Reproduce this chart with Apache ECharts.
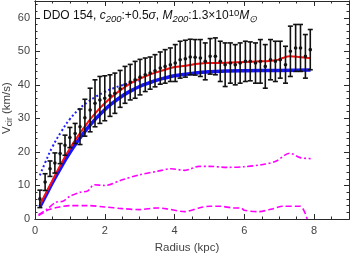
<!DOCTYPE html>
<html><head><meta charset="utf-8">
<script src="https://cdn.jsdelivr.net/npm/echarts@6/dist/echarts.min.js"></script>
<style>html,body{margin:0;padding:0;background:#fff}#c{width:350px;height:257px}</style>
</head><body><div id="c"></div>
<script>
// ---- data ----
const obsR = [0.14,0.29,0.43,0.57,0.72,0.86,1.00,1.15,1.29,1.43,1.58,1.72,1.86,2.00,2.15,2.29,2.44,2.58,2.73,2.87,3.01,3.16,3.30,3.44,3.59,3.73,3.88,4.02,4.16,4.31,4.45,4.59,4.74,4.88,5.02,5.17,5.31,5.45,5.60,5.74,5.88,6.03,6.17,6.32,6.46,6.60,6.75,6.89,7.03,7.18,7.32,7.47,7.61,7.75,7.89];
const obsV = [6.0,11.0,15.0,16.7,19.5,22.0,24.3,25.5,27.5,30.2,32.5,34.5,35.5,36.0,36.8,37.5,38.8,40.0,40.8,41.5,42.3,43.0,43.5,44.2,45.0,45.5,46.0,46.5,47.5,47.8,48.3,48.2,48.0,47.0,48.5,48.5,47.0,46.0,46.5,46.0,46.5,47.0,47.0,46.5,47.0,45.5,47.5,47.0,47.5,46.0,50.0,51.0,51.0,48.5,50.5];
const obsErr = [2.6,2.5,2.3,3.0,3.0,3.0,3.0,3.0,5.3,5.5,6.5,7.0,7.0,6.7,6.2,6.0,5.5,5.5,5.3,5.5,5.3,5.0,4.8,4.8,4.8,5.0,5.0,5.5,5.5,5.5,5.3,5.3,5.5,5.5,5.3,5.5,6.0,6.5,6.0,6.0,6.0,6.0,5.8,6.0,6.5,6.5,6.0,6.0,5.5,5.5,7.5,7.0,7.0,6.5,6.0];

const totR = [0.14,0.3,0.5,0.75,1.0,1.25,1.5,1.75,2.0,2.25,2.5,2.75,3.0,3.25,3.5,3.75,4.0,4.25,4.5,4.75,5.0,5.5,6.0,6.5,6.9,7.1,7.3,7.5,7.9];
const totV = [4.2,7.5,11.5,16.5,21.0,25.0,28.6,31.8,34.5,36.8,38.8,40.5,41.8,42.9,43.8,44.6,45.3,45.6,46.0,46.4,46.5,46.6,46.8,47.0,47.3,48.0,48.5,48.4,47.9];

const haloR = [0.14,0.3,0.5,0.75,1.0,1.25,1.5,1.75,2.0,2.25,2.5,2.75,3.0,3.25,3.5,3.75,4.0,4.5,5.0,5.5,6.0,7.0,7.9];
const haloV = [3.6,6.8,10.8,15.5,19.8,23.6,27.0,30.0,32.6,34.8,36.7,38.2,39.5,40.5,41.4,42.1,42.7,43.4,43.9,44.1,44.2,44.3,44.4];

const halo2R = [0.14,0.3,0.5,0.75,1.0,1.25,1.5,1.75,2.0,2.25,2.5,2.75,3.0];
const halo2V = [13.0,17.0,21.5,26.0,29.8,32.6,34.8,36.5,37.9,39.0,39.9,40.6,41.2];

const gasR = [0.1,0.35,0.6,0.8,1.0,1.3,1.5,1.7,2.0,2.5,3.0,3.5,3.9,4.3,4.7,5.0,5.5,6.0,6.5,6.9,7.3,7.6,7.9];
const gasV = [1.3,3.0,5.0,5.3,6.8,8.0,8.3,10.2,10.0,11.7,13.2,14.2,15.0,14.5,15.7,15.7,15.4,15.6,16.2,17.2,19.6,18.3,18.0];

const starR = [0.1,0.4,0.7,1.0,1.5,2.0,2.5,3.0,3.5,3.8,4.3,4.7,5.0,5.3,5.7,5.9,6.0,6.4,6.8,7.1,7.6,7.8];
const starV = [1.0,2.8,3.6,4.0,4.0,3.6,3.1,2.8,3.3,3.0,2.2,3.3,3.8,3.8,3.3,3.3,2.6,2.2,3.0,3.8,3.8,0.0];

const xTicks = [0,2,4,6,8];
const yTicks = [0,10,20,30,40,50,60];

const zip = (a,b) => a.map((v,i)=>[v,b[i]]);
const obsData = obsR.map((r,i)=>[r,obsV[i],obsErr[i]]);

const FONT = '"Liberation Sans", Arial, sans-serif';
const axisCol = '#2a2a2a';
function xAx(pos, minor, labels){
  return {type:'value', position:pos, min:0, max:9, interval: minor?0.5:2,
    axisLine:{show:true,onZero:false,lineStyle:{color:axisCol,width:1}},
    axisTick:{show:true,inside:true,length: minor?2.5:5,lineStyle:{color:axisCol,width:1}},
    axisLabel:{show:labels,color:'#444',fontSize:11,fontFamily:FONT,margin:6,showMaxLabel:false,
      formatter:v=> xTicks.includes(v)?String(v):''},
    splitLine:{show:false}};
}
function yAx(pos, minor, labels){
  return {type:'value', position:pos, min:0, max:65, interval: minor?2:10,
    axisLine:{show:true,onZero:false,lineStyle:{color:axisCol,width:1}},
    axisTick:{show:true,inside:true,length: minor?2.5:5,lineStyle:{color:axisCol,width:1}},
    axisLabel:{show:labels,color:'#444',fontSize:11,fontFamily:FONT,margin:5,showMaxLabel:false,
      formatter:v=> yTicks.includes(v)?String(v):''},
    splitLine:{show:false}};
}

const chart = echarts.init(document.getElementById('c'), null, {renderer:'canvas'});
chart.setOption({
  animation:false,
  backgroundColor:'#fff',
  grid:{left:35,right:1,top:1,bottom:38,show:false},
  xAxis:[xAx('bottom',false,true), xAx('bottom',true,false), xAx('top',false,false), xAx('top',true,false)],
  yAxis:[yAx('left',false,true), yAx('left',true,false), yAx('right',false,false), yAx('right',true,false)],
  graphic:[
    {type:'text', left:43, top:8, style:{
      rich:{
        n:{fontSize:12,fontFamily:FONT,fill:'#111'},
        i:{fontSize:12,fontFamily:FONT,fontStyle:'italic',fill:'#111'},
        s:{fontSize:9.5,fontFamily:FONT,fontStyle:'italic',fill:'#111',verticalAlign:'bottom',padding:[6,0,0,0]},
        p:{fontSize:9.5,fontFamily:FONT,fill:'#111',verticalAlign:'top',padding:[0,0,5,0]}
      },
      text:'{n|DDO 154, }{i|c}{s|200}{n|:+0.5}{i|σ}{n|, }{i|M}{s|200}{n|:1.3×10}{p|10}{i|M}{s|⊙}'
    }},
    {type:'text', x:187, y:248, style:{text:'Radius (kpc)',fontSize:11.5,fontFamily:FONT,fill:'#444',align:'center',verticalAlign:'middle'}},
    {type:'text', x:7, y:108, rotation:Math.PI/2, style:{
      rich:{n:{fontSize:11.5,fontFamily:FONT,fill:'#444'},s:{fontSize:8.5,fontFamily:FONT,fill:'#444',verticalAlign:'bottom',padding:[5,0,0,0]}},
      text:'{n|V}{s|cir}{n| (km/s)}', align:'center', verticalAlign:'middle'}}
  ],
  series:[
    {type:'line', data:zip(starR,starV), smooth:0.3, symbol:'none', lineStyle:{color:'#ff00ff',width:1.6,type:[6,3]}},
    {type:'line', data:zip(gasR,gasV), smooth:0.3, symbol:'none', lineStyle:{color:'#ff00ff',width:1.6,type:[6,2.5,2,2.5]}},
    {type:'line', data:zip(halo2R,halo2V), smooth:true, symbol:'none', lineStyle:{color:'#1f1fff',width:2,type:[2,2.5]}},
    {type:'line', data:zip(haloR,haloV), smooth:true, symbol:'none', lineStyle:{color:'#1515ff',width:3.5}},
    {type:'line', data:zip(totR,totV), smooth:true, symbol:'none', lineStyle:{color:'#ff1010',width:2}},
    {type:'custom', data:obsData, z:5, renderItem:(params, api)=>{
      const x=api.value(0), y=api.value(1), e=api.value(2);
      const p=api.coord([x,y]), t=api.coord([x,y+e]), b=api.coord([x,y-e]);
      const st={stroke:'#111',lineWidth:1.6};
      return {type:'group', children:[
        {type:'line', shape:{x1:p[0],y1:t[1],x2:p[0],y2:b[1]}, style:st},
        {type:'line', shape:{x1:p[0]-2.5,y1:t[1],x2:p[0]+2.5,y2:t[1]}, style:st},
        {type:'line', shape:{x1:p[0]-2.5,y1:b[1],x2:p[0]+2.5,y2:b[1]}, style:st},
        {type:'circle', shape:{cx:p[0],cy:p[1],r:1.8}, style:{fill:'#111'}}
      ]};
    }}
  ]
});
</script></body></html>
